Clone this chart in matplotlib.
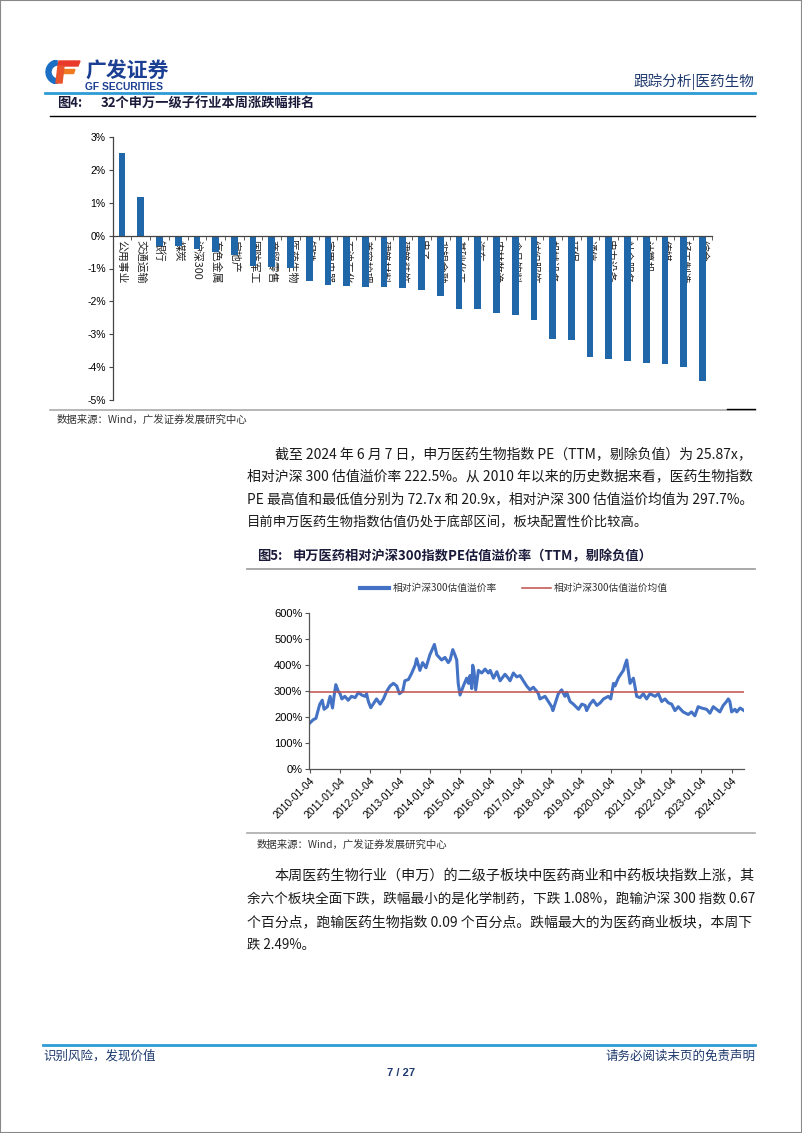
import matplotlib
matplotlib.use("Agg")
import matplotlib.pyplot as plt
import numpy as np
from matplotlib.patches import Wedge, Polygon, Rectangle
from matplotlib.lines import Line2D

plt.rcParams["font.family"] = ["Noto Sans CJK SC", "DejaVu Sans"]
plt.rcParams["axes.unicode_minus"] = False

W, H = 802, 1133

# Figure 4: weekly change of SW level-1 industries (%)
industries = [
    "公用事业", "交通运输", "银行", "煤炭", "沪深300", "有色金属", "房地产", "国防军工",
    "商贸零售", "医药生物", "钢铁", "家用电器", "石油石化", "美容护理", "建筑材料", "建筑装饰",
    "电子", "非银金融", "基础化工", "汽车", "农林牧渔", "食品饮料", "纺织服饰", "机械设备",
    "环保", "通信", "电力设备", "社会服务", "计算机", "传媒", "轻工制造", "综合",
]
weekly_change = [
    2.50, 1.16, -0.31, -0.33, -0.41, -0.50, -0.60, -0.92,
    -0.96, -0.99, -1.37, -1.51, -1.53, -1.55, -1.57, -1.60,
    -1.66, -1.84, -2.22, -2.23, -2.36, -2.42, -2.56, -3.13,
    -3.17, -3.68, -3.74, -3.81, -3.86, -3.90, -3.99, -4.41,
]

# Figure 5: PE premium of SW pharma vs CSI 300 (%)
pe_years = [
    2010.00, 2010.13, 2010.22, 2010.30, 2010.35, 2010.43, 2010.49, 2010.60, 2010.69, 2010.77,
    2010.82, 2010.88, 2010.96, 2011.02, 2011.08, 2011.18, 2011.29, 2011.40, 2011.52, 2011.63,
    2011.74, 2011.85, 2011.90, 2011.96, 2012.04, 2012.23, 2012.35, 2012.46, 2012.57, 2012.68,
    2012.79, 2012.90, 2012.99, 2013.10, 2013.17, 2013.29, 2013.40, 2013.51, 2013.56, 2013.67,
    2013.76, 2013.87, 2013.95, 2014.00, 2014.11, 2014.15, 2014.23, 2014.39, 2014.50, 2014.61,
    2014.67, 2014.76, 2014.83, 2014.89, 2014.94, 2015.00, 2015.11, 2015.22, 2015.28, 2015.33,
    2015.39, 2015.42, 2015.46, 2015.52, 2015.61, 2015.72, 2015.83, 2015.94, 2016.00, 2016.11,
    2016.22, 2016.33, 2016.49, 2016.60, 2016.66, 2016.77, 2016.88, 2016.99, 2017.10, 2017.21,
    2017.32, 2017.43, 2017.54, 2017.60, 2017.65, 2017.82, 2017.93, 2018.04, 2018.08, 2018.15,
    2018.26, 2018.37, 2018.48, 2018.54, 2018.65, 2018.76, 2018.93, 2019.04, 2019.15, 2019.20,
    2019.31, 2019.42, 2019.54, 2019.65, 2019.76, 2019.92, 2020.00, 2020.03, 2020.09, 2020.14,
    2020.25, 2020.36, 2020.42, 2020.47, 2020.53, 2020.58, 2020.64, 2020.75, 2020.80, 2020.86,
    2020.97, 2021.08, 2021.19, 2021.30, 2021.47, 2021.58, 2021.69, 2021.80, 2021.91, 2022.02,
    2022.13, 2022.24, 2022.40, 2022.57, 2022.68, 2022.79, 2022.90, 2023.01, 2023.18, 2023.29,
    2023.40, 2023.51, 2023.62, 2023.73, 2023.84, 2023.90, 2023.95, 2024.01, 2024.12, 2024.18,
    2024.29, 2024.42,
]
pe_premium = [
    175, 190, 195, 230, 250, 265, 230, 240, 280, 235,
    280, 325, 300, 290, 270, 280, 265, 280, 275, 295,
    285, 280, 290, 260, 236, 270, 250, 270, 300, 320,
    330, 320, 290, 300, 340, 345, 370, 400, 425, 380,
    410, 390, 420, 440, 470, 480, 440, 420, 430, 410,
    420, 460, 440, 420, 330, 285, 320, 350, 330, 360,
    310, 400, 380, 305, 380, 370, 385, 370, 380, 350,
    375, 340, 365, 350, 340, 370, 355, 360, 340, 320,
    305, 315, 300, 290, 270, 280, 260, 240, 225, 250,
    290, 305, 280, 295, 260, 250, 230, 250, 245, 225,
    250, 265, 245, 255, 270, 280, 270, 290, 330, 320,
    350, 370, 380, 400, 420, 380, 330, 350, 320, 280,
    275, 290, 270, 290, 280, 290, 260, 270, 255, 250,
    225, 240, 220, 210, 220, 205, 240, 235, 230, 215,
    240, 230, 220, 245, 260, 270, 260, 220, 230, 220,
    235, 225,
]
pe_mean = 297.7
pe_tick_labels = ["2010-01-04", "2011-01-04", "2012-01-04", "2013-01-04", "2014-01-04",
                  "2015-01-04", "2016-01-04", "2017-01-04", "2018-01-04", "2019-01-04",
                  "2020-01-04", "2021-01-04", "2022-01-04", "2023-01-04", "2024-01-04"]

para1 = [
    "截至 2024 年 6 月 7 日，申万医药生物指数 PE（TTM，剔除负值）为 25.87x，",
    "相对沪深 300 估值溢价率 222.5%。从 2010 年以来的历史数据来看，医药生物指数",
    "PE 最高值和最低值分别为 72.7x 和 20.9x，相对沪深 300 估值溢价均值为 297.7%。",
    "目前申万医药生物指数估值仍处于底部区间，板块配置性价比较高。",
]
para2 = [
    "本周医药生物行业（申万）的二级子板块中医药商业和中药板块指数上涨，其",
    "余六个板块全面下跌，跌幅最小的是化学制药，下跌 1.08%，跑输沪深 300 指数 0.67",
    "个百分点，跑输医药生物指数 0.09 个百分点。跌幅最大的为医药商业板块，本周下",
    "跌 2.49%。",
]

NAVY = "#1f3a6e"
LIGHT_BLUE = "#2e9bd6"
TEXT = "#1a1a1a"

fig = plt.figure(figsize=(W / 100, H / 100), dpi=100)


def put(x, y, s, **kw):
    kw.setdefault("va", "center")
    return fig.text(x / W, 1 - y / H, s, **kw)


def hline(x0, x1, y, **kw):
    fig.add_artist(Line2D([x0 / W, x1 / W], [1 - y / H, 1 - y / H],
                          transform=fig.transFigure, **kw))


def paragraph(lines, y0, step, right=755):
    # body text, every full line stretched to the right margin
    renderer = fig.canvas.get_renderer()
    for i, line in enumerate(lines):
        x0 = 275 if i == 0 else 247
        t = put(x0, y0 + i * step, line, fontsize=9.6, color=TEXT)
        if i < len(lines) - 1:
            w = t.get_window_extent(renderer).width
            t.set_fontsize(9.6 * (right - x0) / w)


# page border
fig.add_artist(Rectangle((0, 0), 1, 1, transform=fig.transFigure, fill=False,
                         ec="#888888", lw=1.5))

# logo
lax = fig.add_axes([45 / W, 1 - 84 / H, 36 / W, 24 / H])
lax.set_xlim(0, 36)
lax.set_ylim(0, 24)
lax.axis("off")
lax.add_patch(Wedge((13, 12), 12, 95, 265, width=5, color="#1a6fc4"))
lax.add_patch(Polygon([(14, 23), (35, 23), (33, 18), (13, 18)], color="#e8392b"))
lax.add_patch(Polygon([(16, 14.5), (30, 14.5), (28.5, 10.5), (15.5, 10.5)], color="#f07a22"))
lax.add_patch(Polygon([(13, 18), (19, 18), (17, 1), (11, 1)], color="#e8542b"))
put(85, 71, "广发证券", fontsize=15, fontweight="bold", color="#1b3f93")
put(85, 86.5, "GF SECURITIES", fontsize=7.4, fontweight="bold", color="#1b3f93",
    family=["Liberation Sans", "DejaVu Sans"])
put(754, 82, "跟踪分析|医药生物", fontsize=10.5, color=NAVY, ha="right")
hline(45, 755, 92.5, color=LIGHT_BLUE, lw=2)

# figure 4 title
put(57, 103, "图4:", fontsize=9.5, fontweight="bold", color="#1a1a3a")
put(101, 103, "32个申万一级子行业本周涨跌幅排名", fontsize=9.5, fontweight="bold", color="#1a1a3a")
hline(50, 755, 116, color="black", lw=1)

# bar chart
ax1 = fig.add_axes([112.7 / W, 1 - 400 / H, 599 / W, 263 / H])
x = np.arange(len(industries))
ax1.bar(x, weekly_change, width=0.36, color="#1f67a8", zorder=2)
ax1.set_xlim(-0.5, len(industries) - 0.5)
ax1.set_ylim(-5, 3)
yt = list(range(-5, 4))
ax1.set_yticks(yt)
ax1.set_yticklabels([f"{v}%" for v in yt], fontsize=7.5, family=["Liberation Sans", "DejaVu Sans"])
ax1.spines["bottom"].set_position(("data", 0))
for s in ["top", "right"]:
    ax1.spines[s].set_visible(False)
for s in ["left", "bottom"]:
    ax1.spines[s].set_color("#444444")
    ax1.spines[s].set_linewidth(0.9)
ax1.set_xticks(x)
ax1.set_xticklabels(industries, rotation=-90, fontsize=7.8, va="top", ha="center", color="#222222")
ax1.set_xticks(x + 0.5, minor=True)
ax1.tick_params(axis="x", which="major", length=0, pad=3)
ax1.tick_params(axis="x", which="minor", length=3, color="#444444")
ax1.tick_params(axis="y", length=3, color="#444444", pad=2)

hline(50, 755, 409.5, color="#aaaaaa", lw=1.2)
hline(727, 755, 408.5, color="black", lw=1)
put(57, 420, "数据来源：Wind，广发证券发展研究中心", fontsize=7.5, color="#333333")

paragraph(para1, 454, 22.7)

# figure 5 title
put(257, 556, "图5:", fontsize=9.5, fontweight="bold", color="#1a1a3a")
put(293, 556, "申万医药相对沪深300指数PE估值溢价率（TTM，剔除负值）", fontsize=9.5,
    fontweight="bold", color="#1a1a3a")
hline(247, 755, 569, color="#999999", lw=1.2)

# line chart
ax2 = fig.add_axes([309.3 / W, 1 - 769 / H, 434.7 / W, 155.7 / H])
ax2.plot(pe_years, pe_premium, color="#4472C4", lw=2.2, label="相对沪深300估值溢价率")
ax2.plot([pe_years[0], pe_years[-1]], [pe_mean, pe_mean], color="#C0504D", lw=1.1,
         label="相对沪深300估值溢价均值")
ax2.set_xlim(pe_years[0], pe_years[-1])
ax2.set_ylim(0, 600)
ax2.set_yticks(range(0, 601, 100))
ax2.set_yticklabels([f"{v}%" for v in range(0, 601, 100)], fontsize=8,
                    family=["Liberation Sans", "DejaVu Sans"])
tick_pos = [2010 + i + 3 / 365.25 for i in range(len(pe_tick_labels))]
ax2.set_xticks(tick_pos)
ax2.set_xticklabels(pe_tick_labels, rotation=45, ha="right", rotation_mode="anchor",
                    fontsize=7.5, family=["Liberation Sans", "DejaVu Sans"])
for s in ["top", "right"]:
    ax2.spines[s].set_visible(False)
for s in ["left", "bottom"]:
    ax2.spines[s].set_color("#555555")
    ax2.spines[s].set_linewidth(0.9)
ax2.tick_params(length=3, color="#555555", pad=2)
leg = ax2.legend(loc="center", bbox_to_anchor=(514 / W, 1 - 588 / H), bbox_transform=fig.transFigure,
                 ncol=2, frameon=False, fontsize=7, handlelength=3.0, handletextpad=0.3,
                 columnspacing=2.6, labelcolor="#333333")
leg.get_lines()[0].set_linewidth(3)

hline(247, 755, 833, color="#aaaaaa", lw=1.2)
put(257, 845, "数据来源：Wind，广发证券发展研究中心", fontsize=7.5, color="#333333")

paragraph(para2, 876, 23)

# footer
hline(43, 755, 1045, color=LIGHT_BLUE, lw=2)
put(43, 1056, "识别风险，发现价值", fontsize=9, color=NAVY)
put(756, 1056, "请务必阅读末页的免责声明", fontsize=9, color=NAVY, ha="right")
put(401, 1073, "7 / 27", fontsize=8, fontweight="bold", color=NAVY, ha="center",
    family=["Liberation Sans", "DejaVu Sans"])

fig.savefig("out.png", dpi=100)
